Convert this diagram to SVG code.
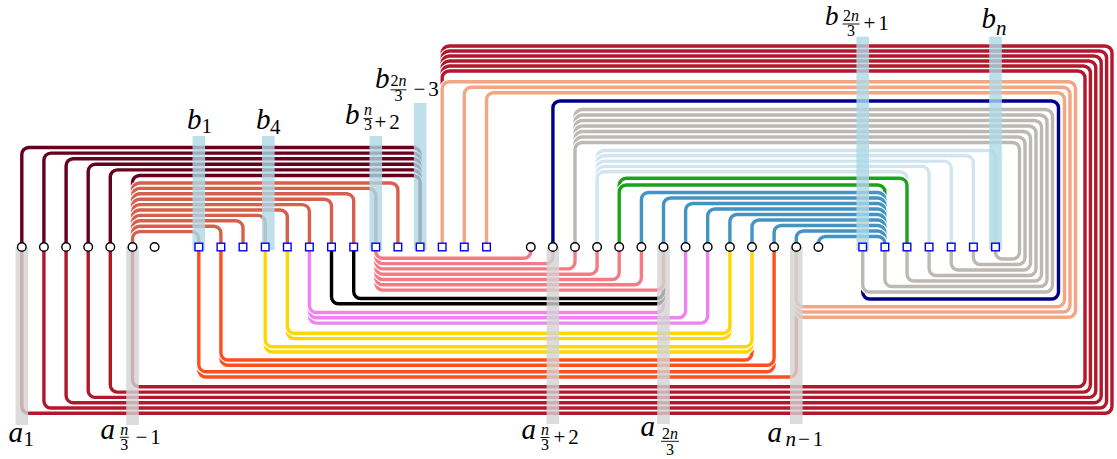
<svg xmlns="http://www.w3.org/2000/svg" width="1117" height="459" viewBox="0 0 1117 459">
<style>
.k{fill:none;stroke:#fff;stroke-width:5.6}
.e{fill:none;stroke-width:3.4}
.red{stroke:#b2182b}.or{stroke:#ff4f1e}.ye{stroke:#ffd700}.vi{stroke:#ee82ee}.bk{stroke:#000}.pk{stroke:#f67a84}
.pe{stroke:#f4a582}.nv{stroke:#00008b}.gy{stroke:#bcb8b3}.lb{stroke:#d1e5f0}.gr{stroke:#1aa31a}.bl{stroke:#4393c3}
.mr{stroke:#67001f}.co{stroke:#d6604d}
.hg{fill:#d3d3d3;opacity:.8}.hb{fill:#add8e6;opacity:.8}
.cn{fill:#fff;stroke:#000;stroke-width:1.4}
.sq{fill:#fff;stroke:#0000ff;stroke-width:1.4}
.t{font-family:"Liberation Serif","DejaVu Serif",serif;fill:#000}
.i{font-style:italic}.L{font-size:29px}.S{font-size:21px}.F{font-size:16px}
.fb{stroke:#000;stroke-width:0.9}
</style>
<g id="connectors">
<path class="k" d="M21.8 247V406.3A7 7 0 0 0 28.8 413.3H1105A7 7 0 0 0 1112 406.3V53A7 7 0 0 0 1105 46H449.2A7 7 0 0 0 442.2 53V247"/><path class="e red" d="M21.8 247V406.3A7 7 0 0 0 28.8 413.3H1105A7 7 0 0 0 1112 406.3V53A7 7 0 0 0 1105 46H449.2A7 7 0 0 0 442.2 53V247"/>
<path class="k" d="M43.9 247V401A7 7 0 0 0 50.9 408H1099.6A7 7 0 0 0 1106.6 401V58A7 7 0 0 0 1099.6 51H449.2A7 7 0 0 0 442.2 58V247"/><path class="e red" d="M43.9 247V401A7 7 0 0 0 50.9 408H1099.6A7 7 0 0 0 1106.6 401V58A7 7 0 0 0 1099.6 51H449.2A7 7 0 0 0 442.2 58V247"/>
<path class="k" d="M66.1 247V395.7A7 7 0 0 0 73.1 402.7H1094.2A7 7 0 0 0 1101.2 395.7V63A7 7 0 0 0 1094.2 56H449.2A7 7 0 0 0 442.2 63V247"/><path class="e red" d="M66.1 247V395.7A7 7 0 0 0 73.1 402.7H1094.2A7 7 0 0 0 1101.2 395.7V63A7 7 0 0 0 1094.2 56H449.2A7 7 0 0 0 442.2 63V247"/>
<path class="k" d="M88.2 247V390.4A7 7 0 0 0 95.2 397.4H1088.8A7 7 0 0 0 1095.8 390.4V68A7 7 0 0 0 1088.8 61H449.2A7 7 0 0 0 442.2 68V247"/><path class="e red" d="M88.2 247V390.4A7 7 0 0 0 95.2 397.4H1088.8A7 7 0 0 0 1095.8 390.4V68A7 7 0 0 0 1088.8 61H449.2A7 7 0 0 0 442.2 68V247"/>
<path class="k" d="M110.3 247V385.1A7 7 0 0 0 117.3 392.1H1083.4A7 7 0 0 0 1090.4 385.1V73A7 7 0 0 0 1083.4 66H449.2A7 7 0 0 0 442.2 73V247"/><path class="e red" d="M110.3 247V385.1A7 7 0 0 0 117.3 392.1H1083.4A7 7 0 0 0 1090.4 385.1V73A7 7 0 0 0 1083.4 66H449.2A7 7 0 0 0 442.2 73V247"/>
<path class="k" d="M132.5 247V379.8A7 7 0 0 0 139.5 386.8H1078A7 7 0 0 0 1085 379.8V78A7 7 0 0 0 1078 71H449.2A7 7 0 0 0 442.2 78V247"/><path class="e red" d="M132.5 247V379.8A7 7 0 0 0 139.5 386.8H1078A7 7 0 0 0 1085 379.8V78A7 7 0 0 0 1078 71H449.2A7 7 0 0 0 442.2 78V247"/>

<path class="k" d="M198.8 247V370A7 7 0 0 0 205.8 377H789.3A7 7 0 0 0 796.3 370V247"/><path class="e or" d="M198.8 247V370A7 7 0 0 0 205.8 377H789.3A7 7 0 0 0 796.3 370V247"/>
<path class="k" d="M198.8 247V364.7A7 7 0 0 0 205.8 371.7H767.1A7 7 0 0 0 774.1 364.7V247"/><path class="e or" d="M198.8 247V364.7A7 7 0 0 0 205.8 371.7H767.1A7 7 0 0 0 774.1 364.7V247"/>
<path class="k" d="M220.9 247V358.3A7 7 0 0 0 227.9 365.3H767.1A7 7 0 0 0 774.1 358.3V247"/><path class="e or" d="M220.9 247V358.3A7 7 0 0 0 227.9 365.3H767.1A7 7 0 0 0 774.1 358.3V247"/>
<path class="k" d="M220.9 247V353A7 7 0 0 0 227.9 360H745A7 7 0 0 0 752 353V247"/><path class="e or" d="M220.9 247V353A7 7 0 0 0 227.9 360H745A7 7 0 0 0 752 353V247"/>

<path class="k" d="M265.2 247V345A7 7 0 0 0 272.2 352H745A7 7 0 0 0 752 345V247"/><path class="e ye" d="M265.2 247V345A7 7 0 0 0 272.2 352H745A7 7 0 0 0 752 345V247"/>
<path class="k" d="M265.2 247V339.7A7 7 0 0 0 272.2 346.7H745A7 7 0 0 0 752 339.7V247"/><path class="e ye" d="M265.2 247V339.7A7 7 0 0 0 272.2 346.7H745A7 7 0 0 0 752 339.7V247"/>
<path class="k" d="M287.3 247V331.6A7 7 0 0 0 294.3 338.6H722.9A7 7 0 0 0 729.9 331.6V247"/><path class="e ye" d="M287.3 247V331.6A7 7 0 0 0 294.3 338.6H722.9A7 7 0 0 0 729.9 331.6V247"/>
<path class="k" d="M287.3 247V326.3A7 7 0 0 0 294.3 333.3H722.9A7 7 0 0 0 729.9 326.3V247"/><path class="e ye" d="M287.3 247V326.3A7 7 0 0 0 294.3 333.3H722.9A7 7 0 0 0 729.9 326.3V247"/>

<path class="k" d="M309.4 247V316.1A7 7 0 0 0 316.4 323.1H700.7A7 7 0 0 0 707.7 316.1V247"/><path class="e vi" d="M309.4 247V316.1A7 7 0 0 0 316.4 323.1H700.7A7 7 0 0 0 707.7 316.1V247"/>
<path class="k" d="M309.4 247V310.8A7 7 0 0 0 316.4 317.8H678.6A7 7 0 0 0 685.6 310.8V247"/><path class="e vi" d="M309.4 247V310.8A7 7 0 0 0 316.4 317.8H678.6A7 7 0 0 0 685.6 310.8V247"/>
<path class="k" d="M309.4 247V305.5A7 7 0 0 0 316.4 312.5H656.5A7 7 0 0 0 663.5 305.5V247"/><path class="e vi" d="M309.4 247V305.5A7 7 0 0 0 316.4 312.5H656.5A7 7 0 0 0 663.5 305.5V247"/>

<path class="k" d="M331.5 247V296.8A7 7 0 0 0 338.5 303.8H656.5A7 7 0 0 0 663.5 296.8V247"/><path class="e bk" d="M331.5 247V296.8A7 7 0 0 0 338.5 303.8H656.5A7 7 0 0 0 663.5 296.8V247"/>
<path class="k" d="M353.7 247V291.5A7 7 0 0 0 360.7 298.5H656.5A7 7 0 0 0 663.5 291.5V247"/><path class="e bk" d="M353.7 247V291.5A7 7 0 0 0 360.7 298.5H656.5A7 7 0 0 0 663.5 291.5V247"/>

<path class="k" d="M375.8 247V283.1A7 7 0 0 0 382.8 290.1H656.5A7 7 0 0 0 663.5 283.1V247"/><path class="e pk" d="M375.8 247V283.1A7 7 0 0 0 382.8 290.1H656.5A7 7 0 0 0 663.5 283.1V247"/>
<path class="k" d="M375.8 247V277.8A7 7 0 0 0 382.8 284.8H634.4A7 7 0 0 0 641.4 277.8V247"/><path class="e pk" d="M375.8 247V277.8A7 7 0 0 0 382.8 284.8H634.4A7 7 0 0 0 641.4 277.8V247"/>
<path class="k" d="M375.8 247V272.5A7 7 0 0 0 382.8 279.5H612.2A7 7 0 0 0 619.2 272.5V247"/><path class="e pk" d="M375.8 247V272.5A7 7 0 0 0 382.8 279.5H612.2A7 7 0 0 0 619.2 272.5V247"/>
<path class="k" d="M375.8 247V267.2A7 7 0 0 0 382.8 274.2H590.1A7 7 0 0 0 597.1 267.2V247"/><path class="e pk" d="M375.8 247V267.2A7 7 0 0 0 382.8 274.2H590.1A7 7 0 0 0 597.1 267.2V247"/>
<path class="k" d="M375.8 247V261.9A7 7 0 0 0 382.8 268.9H568A7 7 0 0 0 575 261.9V247"/><path class="e pk" d="M375.8 247V261.9A7 7 0 0 0 382.8 268.9H568A7 7 0 0 0 575 261.9V247"/>
<path class="k" d="M375.8 247V256.6A7 7 0 0 0 382.8 263.6H545.9A7 7 0 0 0 552.9 256.6V247"/><path class="e pk" d="M375.8 247V256.6A7 7 0 0 0 382.8 263.6H545.9A7 7 0 0 0 552.9 256.6V247"/>
<path class="k" d="M375.8 247V251.3A7 7 0 0 0 382.8 258.3H523.8A7 7 0 0 0 530.8 251.3V247"/><path class="e pk" d="M375.8 247V251.3A7 7 0 0 0 382.8 258.3H523.8A7 7 0 0 0 530.8 251.3V247"/>

<path class="k" d="M442.2 247V88.7A7 7 0 0 1 449.2 81.7H1068.5A7 7 0 0 1 1075.5 88.7V310.3A7 7 0 0 1 1068.5 317.3H803.3A7 7 0 0 1 796.3 310.3V247"/><path class="e pe" d="M442.2 247V88.7A7 7 0 0 1 449.2 81.7H1068.5A7 7 0 0 1 1075.5 88.7V310.3A7 7 0 0 1 1068.5 317.3H803.3A7 7 0 0 1 796.3 310.3V247"/>
<path class="k" d="M464.3 247V94.2A7 7 0 0 1 471.3 87.2H1063A7 7 0 0 1 1070 94.2V305A7 7 0 0 1 1063 312H803.3A7 7 0 0 1 796.3 305V247"/><path class="e pe" d="M464.3 247V94.2A7 7 0 0 1 471.3 87.2H1063A7 7 0 0 1 1070 94.2V305A7 7 0 0 1 1063 312H803.3A7 7 0 0 1 796.3 305V247"/>
<path class="k" d="M486.5 247V99.7A7 7 0 0 1 493.5 92.7H1057.5A7 7 0 0 1 1064.5 99.7V299.7A7 7 0 0 1 1057.5 306.7H803.3A7 7 0 0 1 796.3 299.7V247"/><path class="e pe" d="M486.5 247V99.7A7 7 0 0 1 493.5 92.7H1057.5A7 7 0 0 1 1064.5 99.7V299.7A7 7 0 0 1 1057.5 306.7H803.3A7 7 0 0 1 796.3 299.7V247"/>

<path class="k" d="M552.9 247V108A7 7 0 0 1 559.9 101H1051.5A7 7 0 0 1 1058.5 108V292A7 7 0 0 1 1051.5 299H869.7A7 7 0 0 1 862.7 292V247"/><path class="e nv" d="M552.9 247V108A7 7 0 0 1 559.9 101H1051.5A7 7 0 0 1 1058.5 108V292A7 7 0 0 1 1051.5 299H869.7A7 7 0 0 1 862.7 292V247"/>

<path class="k" d="M575 247V116.5A7 7 0 0 1 582 109.5H1045.5A7 7 0 0 1 1052.5 116.5V285A7 7 0 0 1 1045.5 292H869.7A7 7 0 0 1 862.7 285V247"/><path class="e gy" d="M575 247V116.5A7 7 0 0 1 582 109.5H1045.5A7 7 0 0 1 1052.5 116.5V285A7 7 0 0 1 1045.5 292H869.7A7 7 0 0 1 862.7 285V247"/>
<path class="k" d="M575 247V122A7 7 0 0 1 582 115H1040A7 7 0 0 1 1047 122V279.5A7 7 0 0 1 1040 286.5H891.9A7 7 0 0 1 884.9 279.5V247"/><path class="e gy" d="M575 247V122A7 7 0 0 1 582 115H1040A7 7 0 0 1 1047 122V279.5A7 7 0 0 1 1040 286.5H891.9A7 7 0 0 1 884.9 279.5V247"/>
<path class="k" d="M575 247V127.5A7 7 0 0 1 582 120.5H1034.5A7 7 0 0 1 1041.5 127.5V274A7 7 0 0 1 1034.5 281H914A7 7 0 0 1 907 274V247"/><path class="e gy" d="M575 247V127.5A7 7 0 0 1 582 120.5H1034.5A7 7 0 0 1 1041.5 127.5V274A7 7 0 0 1 1034.5 281H914A7 7 0 0 1 907 274V247"/>
<path class="k" d="M575 247V133A7 7 0 0 1 582 126H1029A7 7 0 0 1 1036 133V268.5A7 7 0 0 1 1029 275.5H936.1A7 7 0 0 1 929.1 268.5V247"/><path class="e gy" d="M575 247V133A7 7 0 0 1 582 126H1029A7 7 0 0 1 1036 133V268.5A7 7 0 0 1 1029 275.5H936.1A7 7 0 0 1 929.1 268.5V247"/>
<path class="k" d="M575 247V138.5A7 7 0 0 1 582 131.5H1023.5A7 7 0 0 1 1030.5 138.5V263A7 7 0 0 1 1023.5 270H958.2A7 7 0 0 1 951.2 263V247"/><path class="e gy" d="M575 247V138.5A7 7 0 0 1 582 131.5H1023.5A7 7 0 0 1 1030.5 138.5V263A7 7 0 0 1 1023.5 270H958.2A7 7 0 0 1 951.2 263V247"/>
<path class="k" d="M575 247V144A7 7 0 0 1 582 137H1018A7 7 0 0 1 1025 144V257.5A7 7 0 0 1 1018 264.5H980.4A7 7 0 0 1 973.4 257.5V247"/><path class="e gy" d="M575 247V144A7 7 0 0 1 582 137H1018A7 7 0 0 1 1025 144V257.5A7 7 0 0 1 1018 264.5H980.4A7 7 0 0 1 973.4 257.5V247"/>
<path class="k" d="M575 247V149.5A7 7 0 0 1 582 142.5H1012.5A7 7 0 0 1 1019.5 149.5V252A7 7 0 0 1 1012.5 259H1002.5A7 7 0 0 1 995.5 252V247"/><path class="e gy" d="M575 247V149.5A7 7 0 0 1 582 142.5H1012.5A7 7 0 0 1 1019.5 149.5V252A7 7 0 0 1 1012.5 259H1002.5A7 7 0 0 1 995.5 252V247"/>

<path class="k" d="M597.1 247V157.5A7 7 0 0 1 604.1 150.5H988.5A7 7 0 0 1 995.5 157.5V247"/><path class="e lb" d="M597.1 247V157.5A7 7 0 0 1 604.1 150.5H988.5A7 7 0 0 1 995.5 157.5V247"/>
<path class="k" d="M597.1 247V162.8A7 7 0 0 1 604.1 155.8H966.4A7 7 0 0 1 973.4 162.8V247"/><path class="e lb" d="M597.1 247V162.8A7 7 0 0 1 604.1 155.8H966.4A7 7 0 0 1 973.4 162.8V247"/>
<path class="k" d="M597.1 247V168.1A7 7 0 0 1 604.1 161.1H944.2A7 7 0 0 1 951.2 168.1V247"/><path class="e lb" d="M597.1 247V168.1A7 7 0 0 1 604.1 161.1H944.2A7 7 0 0 1 951.2 168.1V247"/>
<path class="k" d="M597.1 247V173.4A7 7 0 0 1 604.1 166.4H922.1A7 7 0 0 1 929.1 173.4V247"/><path class="e lb" d="M597.1 247V173.4A7 7 0 0 1 604.1 166.4H922.1A7 7 0 0 1 929.1 173.4V247"/>
<path class="k" d="M597.1 247V178.7A7 7 0 0 1 604.1 171.7H900A7 7 0 0 1 907 178.7V247"/><path class="e lb" d="M597.1 247V178.7A7 7 0 0 1 604.1 171.7H900A7 7 0 0 1 907 178.7V247"/>

<path class="k" d="M619.2 247V185.3A7 7 0 0 1 626.2 178.3H900A7 7 0 0 1 907 185.3V247"/><path class="e gr" d="M619.2 247V185.3A7 7 0 0 1 626.2 178.3H900A7 7 0 0 1 907 185.3V247"/>
<path class="k" d="M619.2 247V192A7 7 0 0 1 626.2 185H877.9A7 7 0 0 1 884.9 192V247"/><path class="e gr" d="M619.2 247V192A7 7 0 0 1 626.2 185H877.9A7 7 0 0 1 884.9 192V247"/>

<path class="k" d="M641.4 247V199.5A7 7 0 0 1 648.4 192.5H877.9A7 7 0 0 1 884.9 199.5V247"/><path class="e bl" d="M641.4 247V199.5A7 7 0 0 1 648.4 192.5H877.9A7 7 0 0 1 884.9 199.5V247"/>
<path class="k" d="M663.5 247V205A7 7 0 0 1 670.5 198H877.9A7 7 0 0 1 884.9 205V247"/><path class="e bl" d="M663.5 247V205A7 7 0 0 1 670.5 198H877.9A7 7 0 0 1 884.9 205V247"/>
<path class="k" d="M685.6 247V210.5A7 7 0 0 1 692.6 203.5H877.9A7 7 0 0 1 884.9 210.5V247"/><path class="e bl" d="M685.6 247V210.5A7 7 0 0 1 692.6 203.5H877.9A7 7 0 0 1 884.9 210.5V247"/>
<path class="k" d="M707.7 247V216A7 7 0 0 1 714.7 209H877.9A7 7 0 0 1 884.9 216V247"/><path class="e bl" d="M707.7 247V216A7 7 0 0 1 714.7 209H877.9A7 7 0 0 1 884.9 216V247"/>
<path class="k" d="M729.9 247V221.5A7 7 0 0 1 736.9 214.5H877.9A7 7 0 0 1 884.9 221.5V247"/><path class="e bl" d="M729.9 247V221.5A7 7 0 0 1 736.9 214.5H877.9A7 7 0 0 1 884.9 221.5V247"/>
<path class="k" d="M752 247V227A7 7 0 0 1 759 220H877.9A7 7 0 0 1 884.9 227V247"/><path class="e bl" d="M752 247V227A7 7 0 0 1 759 220H877.9A7 7 0 0 1 884.9 227V247"/>
<path class="k" d="M774.1 247V232.5A7 7 0 0 1 781.1 225.5H877.9A7 7 0 0 1 884.9 232.5V247"/><path class="e bl" d="M774.1 247V232.5A7 7 0 0 1 781.1 225.5H877.9A7 7 0 0 1 884.9 232.5V247"/>
<path class="k" d="M796.3 247V238A7 7 0 0 1 803.3 231H877.9A7 7 0 0 1 884.9 238V247"/><path class="e bl" d="M796.3 247V238A7 7 0 0 1 803.3 231H877.9A7 7 0 0 1 884.9 238V247"/>
<path class="k" d="M818.4 247V243.5A7 7 0 0 1 825.4 236.5H877.9A7 7 0 0 1 884.9 243.5V247"/><path class="e bl" d="M818.4 247V243.5A7 7 0 0 1 825.4 236.5H877.9A7 7 0 0 1 884.9 243.5V247"/>

<path class="k" d="M21.8 247V154.5A7 7 0 0 1 28.8 147.5H413.1A7 7 0 0 1 420.1 154.5V247"/><path class="e mr" d="M21.8 247V154.5A7 7 0 0 1 28.8 147.5H413.1A7 7 0 0 1 420.1 154.5V247"/>
<path class="k" d="M43.9 247V160.1A7 7 0 0 1 50.9 153.1H413.1A7 7 0 0 1 420.1 160.1V247"/><path class="e mr" d="M43.9 247V160.1A7 7 0 0 1 50.9 153.1H413.1A7 7 0 0 1 420.1 160.1V247"/>
<path class="k" d="M66.1 247V165.7A7 7 0 0 1 73.1 158.7H413.1A7 7 0 0 1 420.1 165.7V247"/><path class="e mr" d="M66.1 247V165.7A7 7 0 0 1 73.1 158.7H413.1A7 7 0 0 1 420.1 165.7V247"/>
<path class="k" d="M88.2 247V171.3A7 7 0 0 1 95.2 164.3H413.1A7 7 0 0 1 420.1 171.3V247"/><path class="e mr" d="M88.2 247V171.3A7 7 0 0 1 95.2 164.3H413.1A7 7 0 0 1 420.1 171.3V247"/>
<path class="k" d="M110.3 247V176.9A7 7 0 0 1 117.3 169.9H413.1A7 7 0 0 1 420.1 176.9V247"/><path class="e mr" d="M110.3 247V176.9A7 7 0 0 1 117.3 169.9H413.1A7 7 0 0 1 420.1 176.9V247"/>
<path class="k" d="M132.5 247V182.5A7 7 0 0 1 139.5 175.5H413.1A7 7 0 0 1 420.1 182.5V247"/><path class="e mr" d="M132.5 247V182.5A7 7 0 0 1 139.5 175.5H413.1A7 7 0 0 1 420.1 182.5V247"/>

<path class="k" d="M132.5 247V190A7 7 0 0 1 139.5 183H390.9A7 7 0 0 1 397.9 190V247"/><path class="e co" d="M132.5 247V190A7 7 0 0 1 139.5 183H390.9A7 7 0 0 1 397.9 190V247"/>
<path class="k" d="M132.5 247V195.4A7 7 0 0 1 139.5 188.4H368.8A7 7 0 0 1 375.8 195.4V247"/><path class="e co" d="M132.5 247V195.4A7 7 0 0 1 139.5 188.4H368.8A7 7 0 0 1 375.8 195.4V247"/>
<path class="k" d="M132.5 247V200.8A7 7 0 0 1 139.5 193.8H346.7A7 7 0 0 1 353.7 200.8V247"/><path class="e co" d="M132.5 247V200.8A7 7 0 0 1 139.5 193.8H346.7A7 7 0 0 1 353.7 200.8V247"/>
<path class="k" d="M132.5 247V206.2A7 7 0 0 1 139.5 199.2H324.5A7 7 0 0 1 331.5 206.2V247"/><path class="e co" d="M132.5 247V206.2A7 7 0 0 1 139.5 199.2H324.5A7 7 0 0 1 331.5 206.2V247"/>
<path class="k" d="M132.5 247V211.6A7 7 0 0 1 139.5 204.6H302.4A7 7 0 0 1 309.4 211.6V247"/><path class="e co" d="M132.5 247V211.6A7 7 0 0 1 139.5 204.6H302.4A7 7 0 0 1 309.4 211.6V247"/>
<path class="k" d="M132.5 247V217A7 7 0 0 1 139.5 210H280.3A7 7 0 0 1 287.3 217V247"/><path class="e co" d="M132.5 247V217A7 7 0 0 1 139.5 210H280.3A7 7 0 0 1 287.3 217V247"/>
<path class="k" d="M132.5 247V222.4A7 7 0 0 1 139.5 215.4H258.2A7 7 0 0 1 265.2 222.4V247"/><path class="e co" d="M132.5 247V222.4A7 7 0 0 1 139.5 215.4H258.2A7 7 0 0 1 265.2 222.4V247"/>
<path class="k" d="M132.5 247V227.8A7 7 0 0 1 139.5 220.8H236A7 7 0 0 1 243 227.8V247"/><path class="e co" d="M132.5 247V227.8A7 7 0 0 1 139.5 220.8H236A7 7 0 0 1 243 227.8V247"/>
<path class="k" d="M132.5 247V233.2A7 7 0 0 1 139.5 226.2H213.9A7 7 0 0 1 220.9 233.2V247"/><path class="e co" d="M132.5 247V233.2A7 7 0 0 1 139.5 226.2H213.9A7 7 0 0 1 220.9 233.2V247"/>
<path class="k" d="M132.5 247V238.6A7 7 0 0 1 139.5 231.6H191.8A7 7 0 0 1 198.8 238.6V247"/><path class="e co" d="M132.5 247V238.6A7 7 0 0 1 139.5 231.6H191.8A7 7 0 0 1 198.8 238.6V247"/>
</g>

<g id="a1"><rect class="hg" x="15.6" y="247" width="12.6" height="178"/><circle class="cn" cx="21.8" cy="247" r="4.3"/><text class="t i L" x="8.5" y="442">a</text><text class="t S" x="23.5" y="446">1</text></g>
<g id="a2"><circle class="cn" cx="43.9" cy="247" r="4.3"/></g>
<g id="a3"><circle class="cn" cx="66.1" cy="247" r="4.3"/></g>
<g id="a4"><circle class="cn" cx="88.2" cy="247" r="4.3"/></g>
<g id="a5"><circle class="cn" cx="110.3" cy="247" r="4.3"/></g>
<g id="a6"><rect class="hg" x="126.2" y="247" width="12.6" height="178"/><circle class="cn" cx="132.5" cy="247" r="4.3"/><text class="t i L" x="100.5" y="438.5">a</text><text class="t i F" x="124.3" y="434.5" text-anchor="middle">n</text><line class="fb" x1="119.8" y1="437.3" x2="128.8" y2="437.3"/><text class="t F" x="124.3" y="449.5" text-anchor="middle">3</text><text class="t S" x="135.5" y="443.5">−<tspan dx="3">1</tspan></text></g>
<g id="a7"><circle class="cn" cx="154.6" cy="247" r="4.3"/></g>

<g id="b1"><rect class="hb" x="192.5" y="136" width="12.6" height="114"/><rect class="sq" x="195" y="243.2" width="7.6" height="7.6"/><text class="t i L" x="187" y="129">b</text><text class="t S" x="201.5" y="133">1</text></g>
<g id="b2"><rect class="sq" x="217.1" y="243.2" width="7.6" height="7.6"/></g>
<g id="b3"><rect class="sq" x="239.2" y="243.2" width="7.6" height="7.6"/></g>
<g id="b4"><rect class="hb" x="262" y="136" width="12.6" height="114"/><rect class="sq" x="261.4" y="243.2" width="7.6" height="7.6"/><text class="t i L" x="256" y="129">b</text><text class="t S" x="270" y="133.5">4</text></g>
<g id="b5"><rect class="sq" x="283.5" y="243.2" width="7.6" height="7.6"/></g>
<g id="b6"><rect class="sq" x="305.6" y="243.2" width="7.6" height="7.6"/></g>
<g id="b7"><rect class="sq" x="327.7" y="243.2" width="7.6" height="7.6"/></g>
<g id="b8"><rect class="sq" x="349.9" y="243.2" width="7.6" height="7.6"/></g>
<g id="b9"><rect class="hb" x="369.5" y="136" width="12.6" height="114"/><rect class="sq" x="372" y="243.2" width="7.6" height="7.6"/><text class="t i L" x="345" y="124">b</text><text class="t i F" x="368" y="115" text-anchor="middle">n</text><line class="fb" x1="363.5" y1="118.6" x2="372.5" y2="118.6"/><text class="t F" x="368" y="130" text-anchor="middle">3</text><text class="t S" x="374.5" y="128.5">+<tspan dx="3">2</tspan></text></g>
<g id="b10"><rect class="sq" x="394.1" y="243.2" width="7.6" height="7.6"/></g>
<g id="b11"><rect class="hb" x="413.8" y="103" width="12.6" height="147"/><rect class="sq" x="416.3" y="243.2" width="7.6" height="7.6"/><text class="t i L" x="375" y="88">b</text><text class="t F" x="398.5" y="86" text-anchor="middle">2<tspan class="i">n</tspan></text><line class="fb" x1="390.5" y1="89.8" x2="406.5" y2="89.8"/><text class="t F" x="398.5" y="101" text-anchor="middle">3</text><text class="t S" x="413.5" y="96">−<tspan dx="3">3</tspan></text></g>
<g id="b12"><rect class="sq" x="438.4" y="243.2" width="7.6" height="7.6"/></g>
<g id="b13"><rect class="sq" x="460.5" y="243.2" width="7.6" height="7.6"/></g>
<g id="b14"><rect class="sq" x="482.7" y="243.2" width="7.6" height="7.6"/></g>

<g id="a8"><circle class="cn" cx="530.8" cy="247" r="4.3"/></g>
<g id="a9"><rect class="hg" x="546.6" y="247" width="12.6" height="177"/><circle class="cn" cx="552.9" cy="247" r="4.3"/><text class="t i L" x="521.5" y="439">a</text><text class="t i F" x="545" y="434.5" text-anchor="middle">n</text><line class="fb" x1="540.5" y1="437.5" x2="549.5" y2="437.5"/><text class="t F" x="545" y="449.5" text-anchor="middle">3</text><text class="t S" x="553.5" y="443.5">+<tspan dx="3">2</tspan></text></g>
<g id="a10"><circle class="cn" cx="575" cy="247" r="4.3"/></g>
<g id="a11"><circle class="cn" cx="597.1" cy="247" r="4.3"/></g>
<g id="a12"><circle class="cn" cx="619.2" cy="247" r="4.3"/></g>
<g id="a13"><circle class="cn" cx="641.4" cy="247" r="4.3"/></g>
<g id="a14"><rect class="hg" x="657.2" y="247" width="12.6" height="177"/><circle class="cn" cx="663.5" cy="247" r="4.3"/><text class="t i L" x="640.5" y="435.5">a</text><text class="t F" x="670" y="438.5" text-anchor="middle">2<tspan class="i">n</tspan></text><line class="fb" x1="661" y1="441.3" x2="679" y2="441.3"/><text class="t F" x="670" y="455" text-anchor="middle">3</text></g>
<g id="a15"><circle class="cn" cx="685.6" cy="247" r="4.3"/></g>
<g id="a16"><circle class="cn" cx="707.7" cy="247" r="4.3"/></g>
<g id="a17"><circle class="cn" cx="729.9" cy="247" r="4.3"/></g>
<g id="a18"><circle class="cn" cx="752" cy="247" r="4.3"/></g>
<g id="a19"><circle class="cn" cx="774.1" cy="247" r="4.3"/></g>
<g id="a20"><rect class="hg" x="790" y="247" width="12.6" height="177"/><circle class="cn" cx="796.3" cy="247" r="4.3"/><text class="t i L" x="767.5" y="441.5">a</text><text class="t S" x="785.5" y="445.5"><tspan class="i">n</tspan><tspan dx="2">−</tspan><tspan dx="3">1</tspan></text></g>
<g id="a21"><circle class="cn" cx="818.4" cy="247" r="4.3"/></g>

<g id="b15"><rect class="hb" x="856.4" y="36.7" width="12.6" height="213.3"/><rect class="sq" x="858.9" y="243.2" width="7.6" height="7.6"/><text class="t i" style="font-size:27px" x="825" y="24.5">b</text><text class="t F" x="851" y="20.5" text-anchor="middle">2<tspan class="i">n</tspan></text><line class="fb" x1="842.5" y1="24" x2="859.5" y2="24"/><text class="t F" x="851" y="35.5" text-anchor="middle">3</text><text class="t S" x="863.5" y="30">+<tspan dx="3">1</tspan></text></g>
<g id="b16"><rect class="sq" x="881.1" y="243.2" width="7.6" height="7.6"/></g>
<g id="b17"><rect class="sq" x="903.2" y="243.2" width="7.6" height="7.6"/></g>
<g id="b18"><rect class="sq" x="925.3" y="243.2" width="7.6" height="7.6"/></g>
<g id="b19"><rect class="sq" x="947.4" y="243.2" width="7.6" height="7.6"/></g>
<g id="b20"><rect class="sq" x="969.6" y="243.2" width="7.6" height="7.6"/></g>
<g id="b21"><rect class="hb" x="989.2" y="36.7" width="12.6" height="213.3"/><rect class="sq" x="991.7" y="243.2" width="7.6" height="7.6"/><text class="t i L" x="981.5" y="28">b</text><text class="t i S" x="996" y="34.5">n</text></g>
</svg>
